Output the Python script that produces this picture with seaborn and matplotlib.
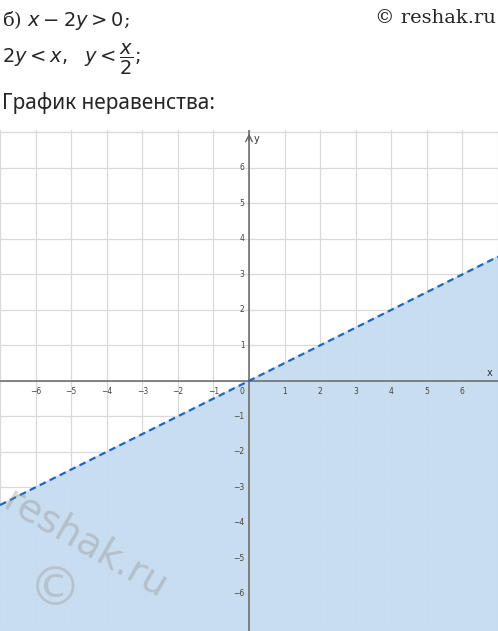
import numpy as np
import matplotlib
matplotlib.use("Agg")
import matplotlib.pyplot as plt
import seaborn as sns

# data: boundary line y = x/2, region y < x/2
x_line = [-7.0, 7.0]
y_line = [-3.5, 3.5]
ticks = [-6, -5, -4, -3, -2, -1, 1, 2, 3, 4, 5, 6]

sns.set_theme(style="white")
plt.rcParams['font.family'] = ['DejaVu Sans']

fig = plt.figure(figsize=(4.98, 6.31), dpi=100)
fig.patch.set_facecolor("white")

# header text
fig.text(0.005, 0.985, "б) $x - 2y > 0$;", fontsize=14, va="top", ha="left",
         family="DejaVu Serif")
fig.text(0.995, 0.985, "© reshak.ru", fontsize=14, va="top", ha="right",
         family="DejaVu Serif")
fig.text(0.005, 0.905, r"$2y < x,\ \ y < \dfrac{x}{2}$;", fontsize=14,
         va="center", ha="left")
fig.text(0.005, 0.837, "График неравенства:", fontsize=15, va="center", ha="left",
         family="Noto Sans")

ax = fig.add_axes([0, 0, 1, (631 - 130) / 631])
ax.set_xlim(-7.0, 7.0)
ax.set_ylim(-7.05, 7.07)

for v in range(-7, 8):
    ax.axvline(v, color="#d9d9d9", lw=0.9, zorder=0)
    ax.axhline(v, color="#d9d9d9", lw=0.9, zorder=0)

ax.fill_between(x_line, y_line, -8, color="#c6dcf0", alpha=0.95, zorder=1)
sns.lineplot(x=x_line, y=y_line, ax=ax, color="#1f66c0", lw=1.6,
             linestyle=(0, (3, 2)), zorder=3)

ax.axhline(0, color="#666666", lw=1.1, zorder=2)
ax.axvline(0, color="#666666", lw=1.1, zorder=2)
ax.annotate("", xy=(0, 7.05), xytext=(0, 6.7),
            arrowprops=dict(arrowstyle="->", color="#666666", lw=1.0))
ax.text(0.12, 6.95, "y", fontsize=7, color="#333333", va="top")
ax.text(6.85, 0.08, "x", fontsize=7, color="#333333", ha="right", va="bottom")

for t in ticks:
    ax.text(t, -0.18, f"{t}".replace("-", "−"), fontsize=5.5, color="#444444",
            ha="center", va="top")
    ax.text(-0.12, t, f"{t}".replace("-", "−"), fontsize=5.5, color="#444444",
            ha="right", va="center")
ax.text(-0.12, -0.18, "0", fontsize=5.5, color="#444444", ha="right", va="top")

ax.text(-4.6, -4.6, "reshak.ru", fontsize=28, color="#8a8a8a", alpha=0.35,
        rotation=-30, ha="center", va="center", family="DejaVu Sans", zorder=4)
ax.text(-5.45, -5.9, "©", fontsize=38, color="#8a8a8a", alpha=0.3,
        ha="center", va="center", zorder=4)

ax.set_xticks([])
ax.set_yticks([])
for sp in ax.spines.values():
    sp.set_visible(False)

fig.savefig("out.png", dpi=100, facecolor="white")
